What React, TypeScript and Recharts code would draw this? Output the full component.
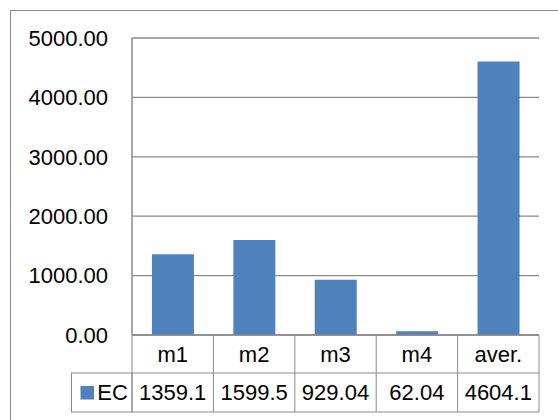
import { BarChart, Bar, XAxis, YAxis, CartesianGrid } from "recharts";

const categories = ["m1", "m2", "m3", "m4", "aver."];
const ecValues = [1359.1, 1599.5, 929.04, 62.04, 4604.1];
const valueLabels = ["1359.1", "1599.5", "929.04", "62.04", "4604.1"];
const yTicks = [0, 1000, 2000, 3000, 4000, 5000];
const seriesName = "EC";

const data = categories.map((c, i) => ({ cat: c, EC: ecValues[i] }));

const FONT = "'Liberation Sans', Arial, sans-serif";
const LINE = "#8a8a8a";
const BLUE = "#4f81bd";

function TableTick(props: any) {
  const { x, y, payload, index, visibleTicksCount, width } = props;
  const bw = width && visibleTicksCount ? width / visibleTicksCount : 81.5;
  const left = x - bw / 2;
  const right = x + bw / 2;
  const r1 = 38;
  const r2 = 77;
  const legendW = 60.5;
  return (
    <g>
      <line x1={left} y1={y} x2={left} y2={y + r2} stroke={LINE} />
      {index === visibleTicksCount - 1 && (
        <line x1={right} y1={y} x2={right} y2={y + r2} stroke={LINE} />
      )}
      <line x1={left} y1={y + r1} x2={right} y2={y + r1} stroke={LINE} />
      <line x1={left} y1={y + r2} x2={right} y2={y + r2} stroke={LINE} />
      <text x={x} y={y + r1 / 2} dy="0.36em" textAnchor="middle" fontSize={22} fontFamily={FONT} fill="#000">
        {payload.value}
      </text>
      <text x={x} y={y + (r1 + r2) / 2} dy="0.36em" textAnchor="middle" fontSize={22} fontFamily={FONT} fill="#000">
        {valueLabels[index]}
      </text>
      {index === 0 && (
        <g>
          <rect x={left - legendW} y={y + r1} width={legendW} height={r2 - r1} fill="none" stroke={LINE} />
          <rect x={left - legendW + 9} y={y + r1 + 13} width={13.5} height={13.5} fill={BLUE} />
          <text x={left - legendW + 41} y={y + (r1 + r2) / 2} dy="0.36em" textAnchor="middle" fontSize={22} fontFamily={FONT} fill="#000">
            {seriesName}
          </text>
        </g>
      )}
    </g>
  );
}

export default function App() {
  return (
    <div style={{ position: "absolute", left: 0, top: 0, width: 558, height: 420, overflow: "hidden", background: "#fff" }}>
      <div style={{ position: "absolute", left: 10, top: 10, width: 600, height: 500, border: `1px solid ${LINE}` }} />
      <div style={{ position: "absolute", left: 0, top: 0 }}>
        <BarChart
          width={558}
          height={420}
          data={data}
          margin={{ top: 38, right: 19, left: 0, bottom: 0 }}
          barCategoryGap="24.5%"
        >
          <CartesianGrid vertical={false} stroke={LINE} strokeWidth={1.3} />
          <XAxis
            dataKey="cat"
            height={85}
            tickSize={0}
            tickMargin={0}
            tickLine={false}
            axisLine={{ stroke: LINE, strokeWidth: 1.5 }}
            interval={0}
            tick={<TableTick />}
          />
          <YAxis
            width={132}
            domain={[0, 5000]}
            ticks={yTicks}
            tickLine={false}
            tickMargin={18}
            axisLine={{ stroke: LINE, strokeWidth: 1.5 }}
            tickFormatter={(v: number) => v.toFixed(2)}
            tick={{ fill: "#000", fontSize: 22, fontFamily: FONT }}
          />
          <Bar dataKey="EC" name={seriesName} fill={BLUE} isAnimationActive={false} />
        </BarChart>
      </div>
    </div>
  );
}
